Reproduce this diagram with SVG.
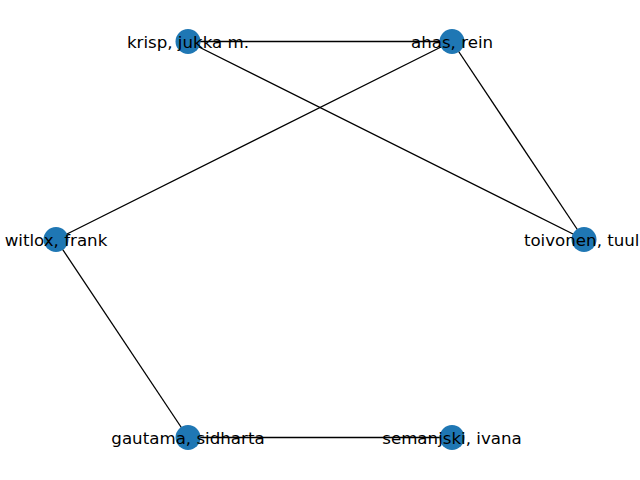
<svg xmlns="http://www.w3.org/2000/svg" width="640" height="480" viewBox="0 0 640 480">
<style>
.edge{stroke:#000;stroke-width:1.3;fill:none}
.node circle{fill:#1f77b4}
.node text{font-family:"DejaVu Sans",sans-serif;font-size:16.67px;fill:#000;text-anchor:middle}
</style>
<rect width="640" height="480" fill="#fff"/>
<g id="edges">
<line class="edge" x1="188" y1="41.5" x2="452" y2="41.5"/>
<line class="edge" x1="188" y1="41.5" x2="584" y2="239.5"/>
<line class="edge" x1="452" y1="41.5" x2="56" y2="239.5"/>
<line class="edge" x1="452" y1="41.5" x2="584" y2="239.5"/>
<line class="edge" x1="56" y1="239.5" x2="188" y2="437.5"/>
<line class="edge" x1="188" y1="437.5" x2="452" y2="437.5"/>
</g>
<g id="node-krisp" class="node"><circle cx="188" cy="41.5" r="12.5"/><text x="188" y="47.5">krisp, jukka m.</text></g>
<g id="node-ahas" class="node"><circle cx="452" cy="41.5" r="12.5"/><text x="452" y="47.5">ahas, rein</text></g>
<g id="node-witlox" class="node"><circle cx="56" cy="239.5" r="12.5"/><text x="56" y="245.5">witlox, frank</text></g>
<g id="node-toivonen" class="node"><circle cx="584" cy="239.5" r="12.5"/><text x="584" y="245.5">toivonen, tuuli</text></g>
<g id="node-gautama" class="node"><circle cx="188" cy="437.5" r="12.5"/><text x="188" y="443.5">gautama, sidharta</text></g>
<g id="node-semanjski" class="node"><circle cx="452" cy="437.5" r="12.5"/><text x="452" y="443.5">semanjski, ivana</text></g>
</svg>
